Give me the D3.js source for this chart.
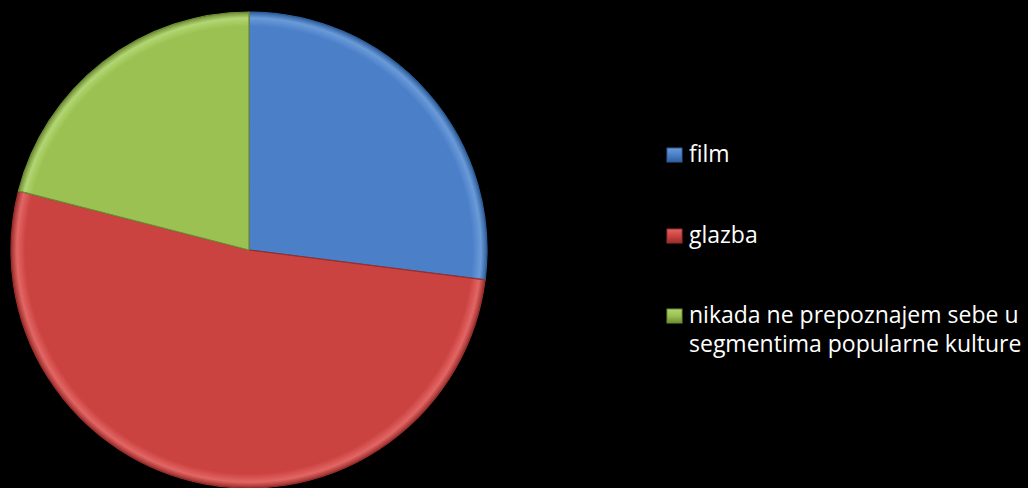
<!DOCTYPE html>
<html><head><meta charset="utf-8">
<script src="https://cdn.jsdelivr.net/npm/d3@7"></script>
<style>body{margin:0;background:#000;}svg{display:block;}</style>
</head><body>
<svg id="c" width="1028" height="488"></svg>
<script>
const categories = ["film", "glazba", "nikada ne prepoznajem sebe u segmentima popularne kulture"];
const values = [27, 52, 21];
const legendLines = [["film"], ["glazba"], ["nikada ne prepoznajem sebe u", "segmentima popularne kulture"]];
const colors = ["#4b80c9", "#cb4341", "#9bc152"];
const lightColors = ["#6a9ad8", "#e26664", "#b2d672"];
const darkColors = ["#2f5f9c", "#9a2e2c", "#6e8c34"];

const svg = d3.select("#c");
svg.append("rect").attr("width",1028).attr("height",488).attr("fill","#000");
const cx = 249, cy = 250, r = 238;
const defs = svg.append("defs");
colors.forEach((c,i)=>{
  const g = defs.append("radialGradient").attr("id","g"+i)
    .attr("gradientUnits","userSpaceOnUse").attr("cx",0).attr("cy",0).attr("r",r);
  g.append("stop").attr("offset","0%").attr("stop-color",c);
  g.append("stop").attr("offset","94%").attr("stop-color",c);
  g.append("stop").attr("offset","97.5%").attr("stop-color",lightColors[i]);
  g.append("stop").attr("offset","100%").attr("stop-color",darkColors[i]);
  const lg = defs.append("linearGradient").attr("id","l"+i).attr("x1",0).attr("y1",0).attr("x2",0).attr("y2",1);
  lg.append("stop").attr("offset","0%").attr("stop-color",lightColors[i]);
  lg.append("stop").attr("offset","50%").attr("stop-color",c);
  lg.append("stop").attr("offset","100%").attr("stop-color",darkColors[i]);
});
const pie = d3.pie().sort(null).value(d=>d)(values);
const arc = d3.arc().innerRadius(0).outerRadius(r);
const gp = svg.append("g").attr("transform",`translate(${cx},${cy})`);
gp.selectAll("path.s").data(pie).join("path").attr("class","s")
  .attr("d",arc).attr("fill",(d,i)=>`url(#g${i})`)
  .attr("stroke",(d,i)=>darkColors[i]).attr("stroke-width",1.2).attr("stroke-linejoin","round");

const lx = 667, base = [162, 243, 323];
const lg = svg.append("g");
categories.forEach((c,i)=>{
  lg.append("rect").attr("x",lx).attr("y",base[i]-14).attr("width",15).attr("height",14)
    .attr("fill",`url(#l${i})`).attr("stroke",darkColors[i]).attr("stroke-width",1);
  const t = lg.append("text").attr("x",689).attr("y",base[i])
    .attr("fill","#fff").attr("font-family","'Open Sans', sans-serif").attr("font-size",23);
  legendLines[i].forEach((ln,j)=>{
    t.append("tspan").attr("x",689).attr("dy", j===0?0:29).text(ln);
  });
});
</script>
</body></html>
